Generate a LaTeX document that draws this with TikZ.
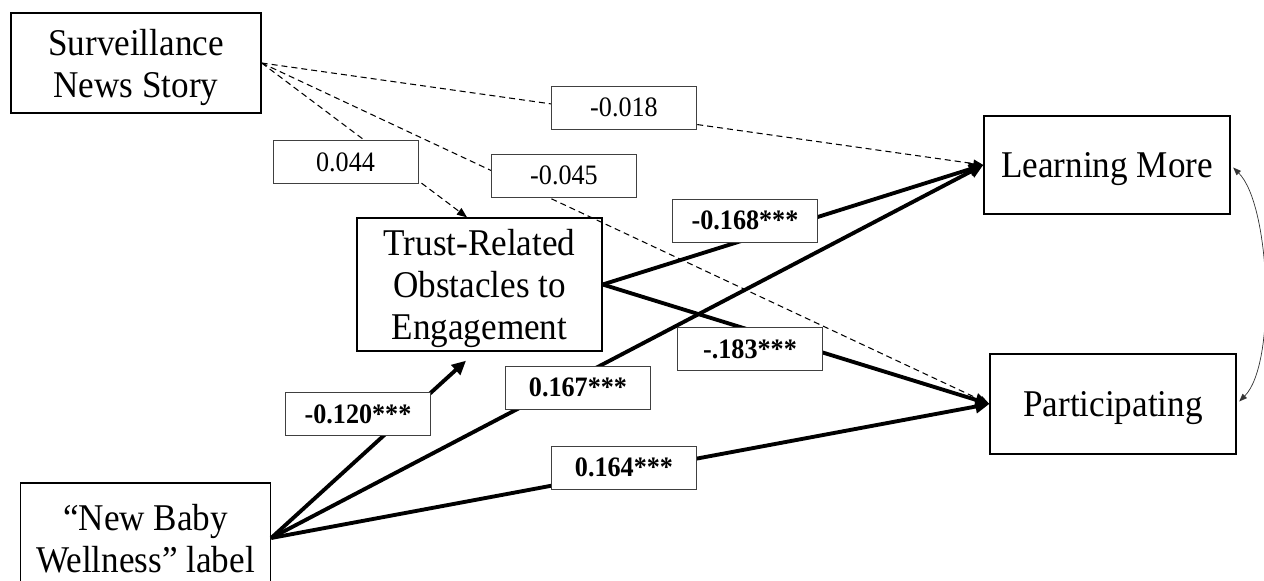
\documentclass[tikz,border=0pt]{standalone}
\usepackage{fontspec}
\setmainfont{Liberation Serif}[FakeStretch=0.93]
\usetikzlibrary{arrows.meta}

\begin{document}
\begin{tikzpicture}[x=0.02cm, y=-0.02cm,
  var/.style={draw, line width=0.8pt, align=center, inner sep=0pt, text depth=0pt, font=\fontsize{21.5}{24}\selectfont},
  coef/.style={draw=black!75, line width=0.5pt, fill=white, minimum width=2.9cm, minimum height=0.86cm, inner sep=0pt, font=\fontsize{16}{18}\selectfont},
  sig/.style={coef, font=\fontsize{16}{18}\selectfont\bfseries},
  nsarr/.style={-{Triangle[length=2mm,width=1.6mm]}, line width=0.6pt, dash pattern=on 1.2mm off 0.8mm},
  sigarr/.style={-{Triangle[length=2.8mm,width=2.6mm]}, line width=2.2pt},
  corr/.style={{Triangle[length=1.6mm,width=1.2mm]}-{Triangle[length=1.6mm,width=1.2mm]}, line width=0.4pt, black!80, shorten <=2pt, shorten >=2pt}]
  \useasboundingbox (0,0) rectangle (1264,581);
  % variables
  \node[var, minimum width=5cm, minimum height=2cm] (surv) at (136,63) {Surveillance\\News Story};
  \node[var, minimum width=4.9cm, minimum height=2.66cm] (trust) at (479.5,284.5) {Trust-Related\\Obstacles to\\Engagement};
  \node[var, minimum width=5cm, minimum height=2.2cm] (nbw) at (145.5,538) {“New Baby\\Wellness” label};
  \node[var, minimum width=4.92cm, minimum height=1.96cm] (learn) at (1107,165) {Learning More};
  \node[var, minimum width=4.92cm, minimum height=2cm] (part) at (1113,404) {Participating};
  % paths
  \draw[nsarr] (surv.east) -- (learn.west);
  \draw[nsarr] (surv.east) -- ([xshift=-0.25cm]trust.north);
  \draw[nsarr] (surv.east) -- (part.west);
  \draw[sigarr] (trust.east) -- (learn.west);
  \draw[sigarr] (trust.east) -- (part.west);
  \draw[sigarr] (nbw.east) -- ([xshift=-0.27cm,yshift=-0.18cm]trust.south);
  \draw[sigarr] (nbw.east) -- (learn.west);
  \draw[sigarr] (nbw.east) -- (part.west);
  \draw[corr] (learn.east) .. controls +(40,40) and +(40,-40) .. (part.east);
  % coefficients
  \node[coef] (c1) at (345.5,162) {0.044};
  \node[coef] (c2) at (624,107.5) {-0.018};
  \node[coef] (c3) at (564,175.5) {-0.045};
  \node[sig] (c4) at (745,220.5) {-0.168***};
  \node[sig] (c5) at (750,349) {-.183***};
  \node[sig] (c6) at (578,387.5) {0.167***};
  \node[sig] (c7) at (358,414) {-0.120***};
  \node[sig] (c8) at (624,467.5) {0.164***};
\end{tikzpicture}
\end{document}
